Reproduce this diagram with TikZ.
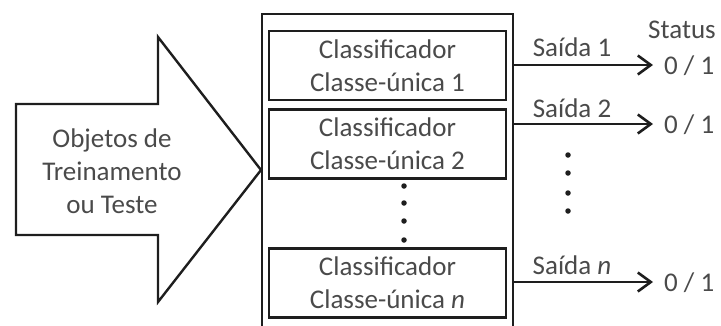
\documentclass[tikz,border=0pt]{standalone}
\usepackage{fontspec}
\setmainfont{Carlito}
\usetikzlibrary{arrows.meta}
\definecolor{txtgray}{HTML}{4A4A4A}
\definecolor{linecol}{HTML}{1E1E1E}
\begin{document}
\begin{tikzpicture}[x=1pt,y=-1pt,
  outline/.style={draw=linecol,line width=2.4pt,line join=miter},
  lbl/.style={text=txtgray,font=\fontsize{27}{33}\selectfont,align=center,inner sep=0pt},
  clsbox/.style={outline,line width=2.2pt,minimum width=237pt,minimum height=69pt,inner sep=0pt,
    text=txtgray,font=\fontsize{27}{33}\selectfont,align=center},
  outarrow/.style={draw=linecol,line width=2.2pt,-{Straight Barb[length=13pt,width=19pt,line width=2.6pt]}},
  dot/.style={circle,fill=linecol,inner sep=0pt,minimum size=5.5pt}]
\useasboundingbox (0,0) rectangle (721,325);

% big input arrow
\draw[outline] (16,104) -- (158,104) -- (158,37) -- (261,170) -- (158,302) -- (158,235) -- (16,235) -- cycle;
\node[lbl] (input) at (112,171) {Objetos de\\Treinamento\\ou Teste};

% outer container (runs past the lower edge)
\draw[outline] (262,335) -- (262,14) -- (513,14) -- (513,335);
\coordinate (outR1) at (513,65);
\coordinate (outR2) at (513,124);
\coordinate (outRn) at (513,282);

% one-class classifiers
\node[clsbox] (c1) at (387.5,65.5) {Classificador\\Classe-única 1};
\node[clsbox] (c2) at (387.5,144) {Classificador\\Classe-única 2};
\node[clsbox] (cn) at (387.5,283) {Classificador\\Classe-única \textit{n}};

% vertical ellipsis between classifiers
\node[dot] (d1) at (404,186) {};
\node[dot] (d2) at (404,203) {};
\node[dot] (d3) at (404,221) {};
\node[dot] (d4) at (404,240) {};

% status outputs
\node[lbl,anchor=west] (st1) at (664,66) {0 / 1};
\node[lbl,anchor=west] (st2) at (664,125) {0 / 1};
\node[lbl,anchor=west] (stn) at (664,283) {0 / 1};
\node[lbl] (status) at (682,30) {Status};

\draw[outarrow] (outR1) -- ([xshift=-11pt]st1.west |- outR1);
\draw[outarrow] (outR2) -- ([xshift=-11pt]st2.west |- outR2);
\draw[outarrow] (outRn) -- ([xshift=-11pt]stn.west |- outRn);

\node[lbl] (s1) at (572,47) {Saída 1};
\node[lbl] (s2) at (572,108) {Saída 2};
\node[lbl] (sn) at (572,265) {Saída \textit{n}};

% vertical ellipsis between outputs
\node[dot] (e1) at (568,155) {};
\node[dot] (e2) at (568,173) {};
\node[dot] (e3) at (568,193) {};
\node[dot] (e4) at (568,211) {};
\end{tikzpicture}
\end{document}
